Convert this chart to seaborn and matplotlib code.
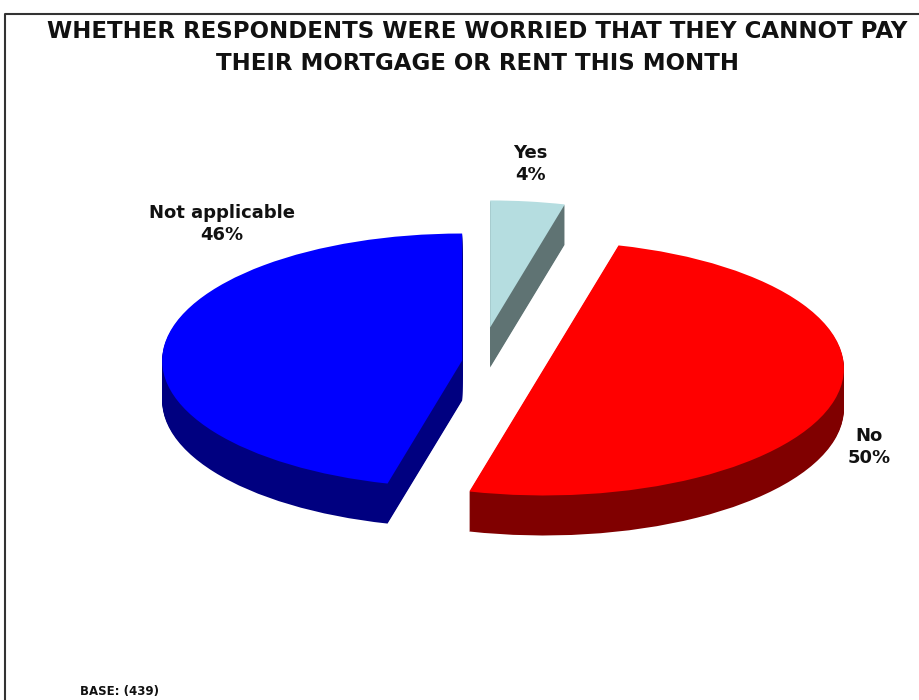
import numpy as np
import matplotlib
matplotlib.use("Agg")
import matplotlib.pyplot as plt
import seaborn as sns
from matplotlib.lines import Line2D

# ---- data ----
categories = ["Yes", "No", "Not applicable"]
values = [4, 50, 46]
pct_labels = ["4%", "50%", "46%"]
top_colors = ["#B5DDE0", "#FF0000", "#0000FF"]
side_colors = ["#5F7373", "#800000", "#000080"]
explode = [0.27, 0.22, 0.06]

title = "WHETHER RESPONDENTS WERE WORRIED THAT THEY CANNOT PAY\nTHEIR MORTGAGE OR RENT THIS MONTH"
base_note = "BASE: (439)"

sns.set_theme(style="white")
plt.rcParams['font.family'] = ['DejaVu Sans']

W, H = 919, 700
fig = plt.figure(figsize=(W / 100, H / 100), dpi=100)
fig.patch.set_facecolor("white")
ax = fig.add_axes([0, 0, 1, 1])


def px(x, y):
    return x / W, 1 - y / H


# ---- 3D pie: stacked darker layers for the side walls, then the top ----
depth = 0.315
n_layers = 40
for d in np.linspace(depth, 0, n_layers + 1)[:-1]:
    ax.pie(values, explode=explode, colors=side_colors, startangle=90,
           counterclock=False, center=(0, -d),
           wedgeprops=dict(linewidth=0, antialiased=True))
ax.pie(values, explode=explode, colors=top_colors, startangle=90,
       counterclock=False, center=(0, 0),
       wedgeprops=dict(linewidth=0, antialiased=True))

ax.set_aspect("auto")
ax.set_xlim(-1.6, 1.4633)
ax.set_ylim(-2.665, 2.846)
ax.axis("off")

# ---- slice labels ----
label_pos = {"Yes": (530, 164), "No": (869, 447), "Not applicable": (222, 224)}
for cat, pct in zip(categories, pct_labels):
    x, y = px(*label_pos[cat])
    fig.text(x, y, f"{cat}\n{pct}", ha="center", va="center",
             fontsize=13, fontweight="bold", color="#111111",
             linespacing=1.25)

# ---- title ----
tx, ty = px(477, 47)
fig.text(tx, ty, title, ha="center", va="center", fontsize=16.5,
         fontweight="bold", color="#111111", linespacing=1.5)

# ---- base note ----
bx, by = px(80, 691)
fig.text(bx, by, base_note, ha="left", va="center", fontsize=8.5,
         fontweight="bold", color="#111111")

# ---- frame ----
x0, ytop = px(5, 14)
fig.add_artist(Line2D([x0, x0, 1.0], [0.0, ytop, ytop],
                      transform=fig.transFigure, color="#333333", lw=1.5))

fig.savefig("out.png", dpi=100)
